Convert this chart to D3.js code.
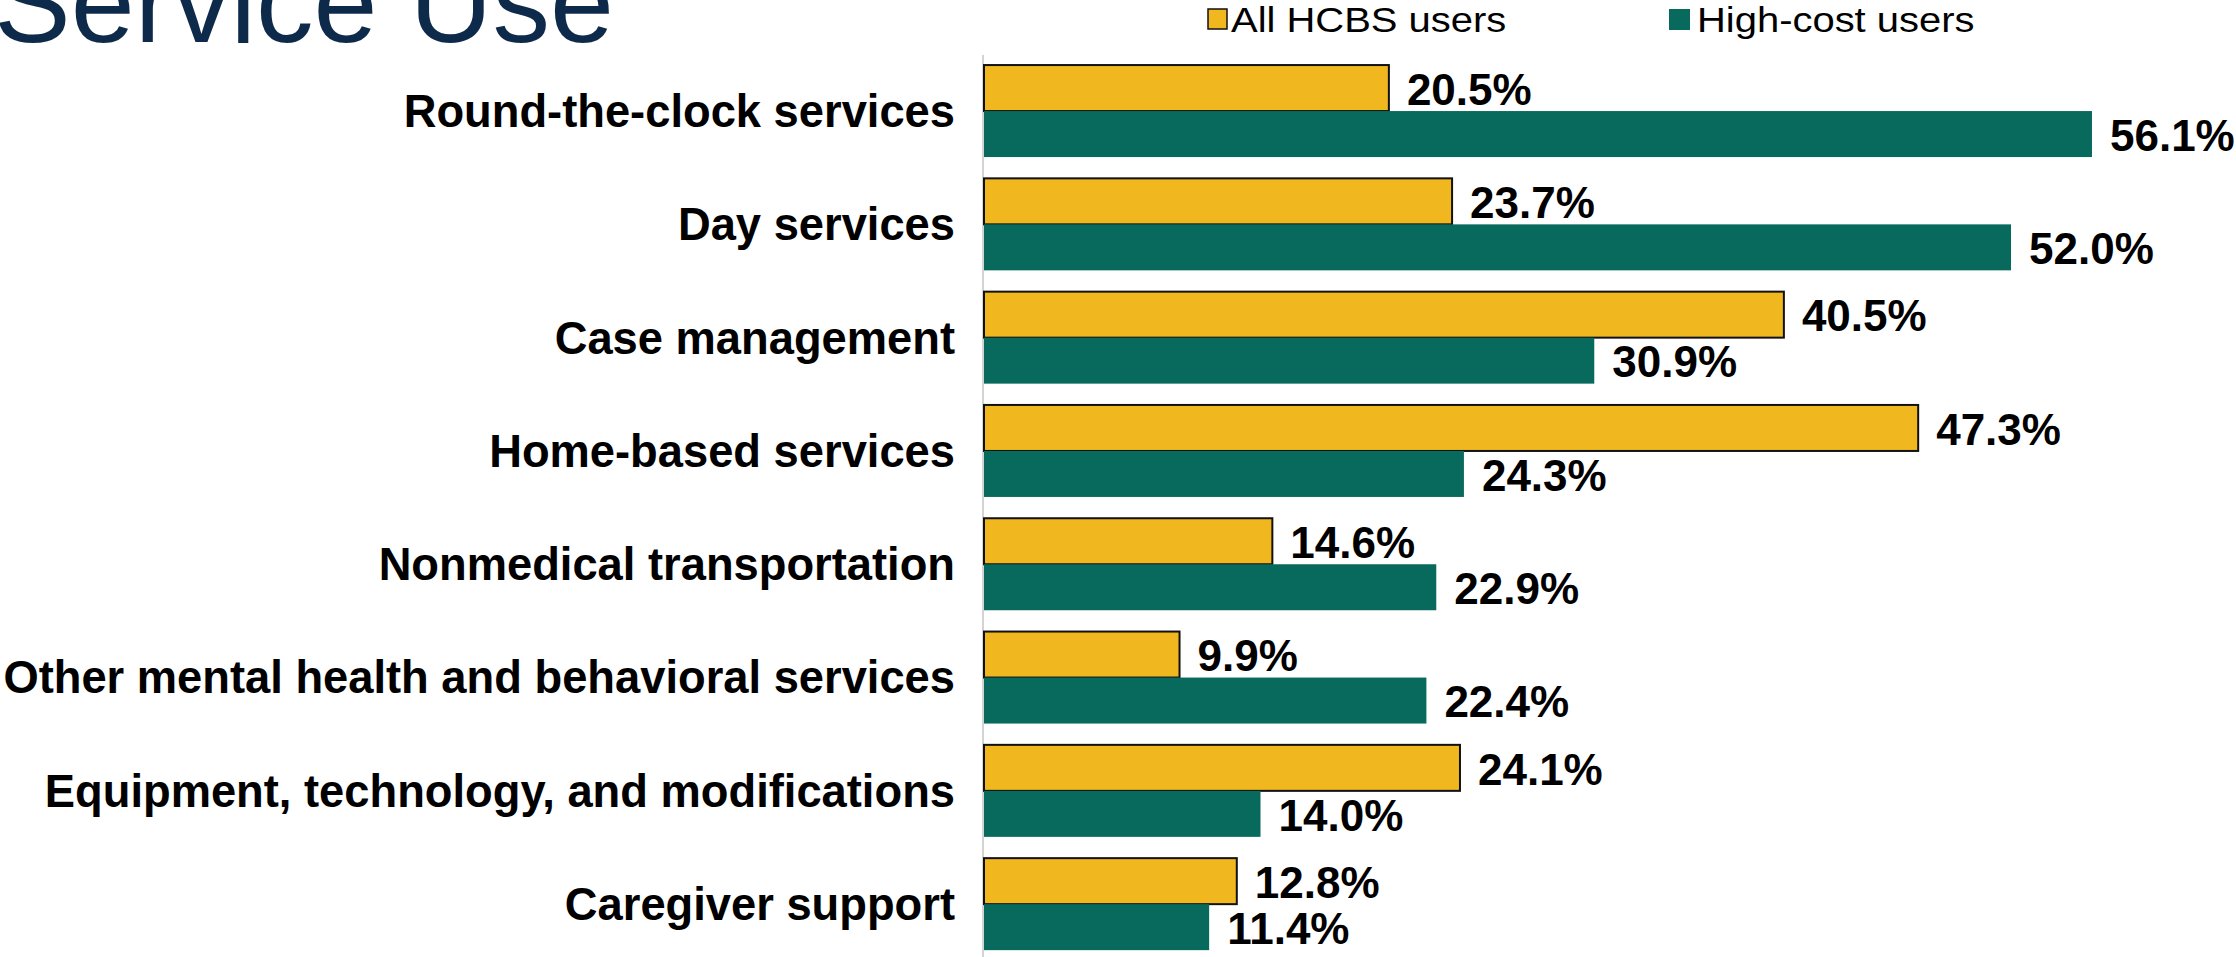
<!DOCTYPE html>
<html lang="en">
<head>
    <meta charset="UTF-8">
    <title>Service Use</title>
    <script src="https://d3js.org/d3.v7.min.js"></script>
    <style>
        body { margin: 0; background: #fff; }
        svg { display: block; font-family: "Liberation Sans", Arial, sans-serif; }
    </style>
</head>
<body>
    <svg id="chart" width="2236" height="957"></svg>

    <script>
        // categories, top to bottom
        var categories = [
            "Round-the-clock services",
            "Day services",
            "Case management",
            "Home-based services",
            "Nonmedical transportation",
            "Other mental health and behavioral services",
            "Equipment, technology, and modifications",
            "Caregiver support"];

        // series values (percent)
        var allUsers      = [20.5, 23.7, 40.5, 47.3, 14.6, 9.9, 24.1, 12.8];
        var highCostUsers = [56.1, 52.0, 30.9, 24.3, 22.9, 22.4, 14.0, 11.4];

        var seriesNames  = ["All HCBS users", "High-cost users"];
        var seriesColors = ["#F0B71E", "#076A5C"];

        // flat table for the bars
        var rows = [];
        categories.forEach(function(c, i) {
            rows.push({cat: c, series: 0, value: allUsers[i]});
            rows.push({cat: c, series: 1, value: highCostUsers[i]});
        });

        var svg = d3.select("#chart");

        // scales
        var xScale = d3.scaleLinear().domain([0, 60]).range([984, 984 + 60 * 19.75]);
        var yScale = d3.scaleBand().domain(categories).range([54.4, 960.8])
            .paddingInner(0.188).paddingOuter(0.094);
        var ySub = d3.scaleBand().domain([0, 1]).range([0, yScale.bandwidth()]);

        // title (cropped at the top, like the slide)
        svg.append("text")
            .attr("x", -6)
            .attr("y", 42)
            .attr("font-size", "115px")
            .attr("fill", "#0E2A4B")
            .text("Service Use");

        // vertical axis line
        svg.append("line")
            .attr("x1", 983).attr("x2", 983)
            .attr("y1", 55).attr("y2", 957)
            .attr("stroke", "#d4d4d4")
            .attr("stroke-width", 2);

        // bars
        svg.selectAll(".bar")
            .data(rows)
            .join("rect")
            .classed("bar", true)
            .attr("x", xScale(0))
            .attr("y", d => yScale(d.cat) + ySub(d.series))
            .attr("width", d => xScale(d.value) - xScale(0))
            .attr("height", ySub.bandwidth())
            .attr("fill", d => seriesColors[d.series])
            .attr("stroke", d => d.series == 0 ? "#111" : "none")
            .attr("stroke-width", 2);

        // value labels
        svg.selectAll(".val")
            .data(rows)
            .join("text")
            .classed("val", true)
            .attr("x", d => xScale(d.value) + 18)
            .attr("y", d => yScale(d.cat) + ySub(d.series) + ySub.bandwidth() / 2)
            .attr("dy", "0.38em")
            .attr("font-size", "44px")
            .attr("font-weight", "bold")
            .attr("fill", "#000")
            .text(d => d.value.toFixed(1) + "%");

        // category labels
        svg.selectAll(".cat")
            .data(categories)
            .join("text")
            .classed("cat", true)
            .attr("x", 955)
            .attr("y", d => yScale(d) + yScale.bandwidth() / 2)
            .attr("dy", "0.35em")
            .attr("text-anchor", "end")
            .attr("font-size", "45.3px")
            .attr("font-weight", "bold")
            .attr("fill", "#000")
            .text(d => d);

        // legend
        var legendX = [1208, 1669];
        var legendTextX = [23, 28];
        var legend = svg.selectAll(".legend")
            .data(seriesNames)
            .join("g")
            .classed("legend", true)
            .attr("transform", (d, i) => "translate(" + legendX[i] + ",9)");

        legend.append("rect")
            .attr("width", (d, i) => i == 0 ? 19 : 21)
            .attr("height", (d, i) => i == 0 ? 20 : 21)
            .attr("fill", (d, i) => seriesColors[i])
            .attr("stroke", (d, i) => i == 0 ? "#111" : "none")
            .attr("stroke-width", 1.5);

        // slide text is a bit wider than its height suggests
        legend.append("text")
            .attr("transform", (d, i) => "translate(" + legendTextX[i] + ",22.5) scale(1.11,1)")
            .attr("font-size", "36px")
            .attr("fill", "#000")
            .text(d => d);
    </script>
</body>
</html>
